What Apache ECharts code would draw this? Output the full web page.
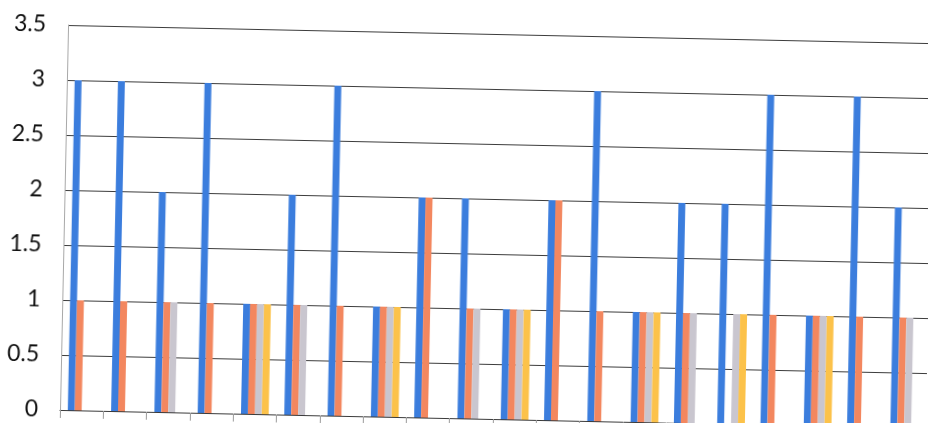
<!DOCTYPE html>
<html>
<head>
<meta charset="utf-8">
<script src="https://cdn.jsdelivr.net/npm/echarts@6/dist/echarts.min.js"></script>
<style>
  html, body { margin: 0; padding: 0; background: #ffffff; overflow: hidden; width: 928px; height: 423px; }
  #chart { position: absolute; left: 0; top: 0; width: 1000px; height: 480px;
           transform-origin: 63px 410px; transform: rotate(1.2deg); }
</style>
</head>
<body>
<div id="chart"></div>
<script>
const categories = ['1','2','3','4','5','6','7','8','9','10','11','12','13','14','15','16','17','18','19','20'];
const seriesBlue   = [3,3,2,3,1,2,3,1,2,2,1,2,3,1,2,2,3,1,3,2];
const seriesOrange = [1,1,1,1,1,1,1,1,2,1,1,2,1,1,1,0,1,1,1,1];
const seriesGray   = [0,0,1,0,1,1,0,1,0,1,1,0,0,1,1,1,0,1,0,1];
const seriesYellow = [0,0,0,0,1,0,0,1,0,0,1,0,0,1,0,1,0,1,0,0];
const yTicks = { min: 0, max: 3.5, interval: 0.5 };

const chart = echarts.init(document.getElementById('chart'), null, { renderer: 'canvas' });
const barStyle = (c) => ({ type: 'bar', barGap: '0%', barCategoryGap: '36%', itemStyle: { color: c }, silent: true });
chart.setOption({
  animation: false,
  backgroundColor: '#ffffff',
  grid: { left: 60, top: 25, width: 866, height: 385 },
  xAxis: {
    type: 'category',
    data: categories,
    axisLine: { show: true, lineStyle: { color: '#3a3a3a', width: 1 } },
    axisTick: { show: true, length: 8, alignWithLabel: false, lineStyle: { color: '#9a9a9a' } },
    axisLabel: { show: false },
    splitLine: { show: false }
  },
  yAxis: {
    type: 'value',
    min: yTicks.min, max: yTicks.max, interval: yTicks.interval,
    axisLine: { show: true, lineStyle: { color: '#a8a8a8', width: 1 } },
    axisTick: { show: false },
    axisLabel: { show: true, margin: 22, fontFamily: 'Lato', fontSize: 23, color: '#111111',
                 formatter: (v) => String(v) },
    splitLine: { show: true, lineStyle: { color: '#3c3c3c', width: 1.2 } }
  },
  series: [
    Object.assign(barStyle('#3b7ddd'), { data: seriesBlue }),
    Object.assign(barStyle('#f3875f'), { data: seriesOrange }),
    Object.assign(barStyle('#c9c6cf'), { data: seriesGray }),
    Object.assign(barStyle('#fcc24a'), { data: seriesYellow })
  ]
});
</script>
</body>
</html>
